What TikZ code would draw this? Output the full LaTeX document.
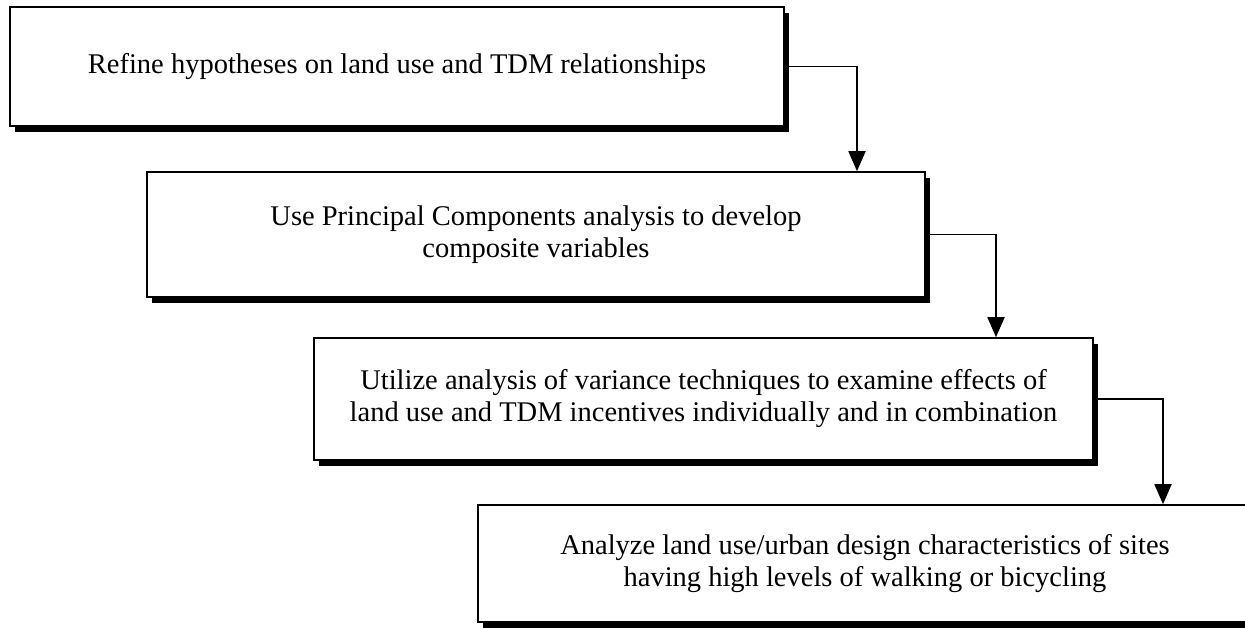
\documentclass[tikz,border=0pt]{standalone}
\usepackage{fontspec}
\setmainfont{Liberation Serif}
\usetikzlibrary{shadows,arrows.meta}
\begin{document}
\begin{tikzpicture}[x=1pt,y=-1pt,
  stepbox/.style={draw=black, line width=1.6pt, fill=white, align=center,
    inner sep=0pt, font=\fontsize{28.5}{32}\selectfont,
    drop shadow={shadow xshift=5pt, shadow yshift=-6pt, fill=black, opacity=1}},
  link/.style={line width=1.8pt, -{Triangle[length=20pt,width=17pt]}}]
\useasboundingbox (0,0) rectangle (1245,628);
\clip (0,0) rectangle (1245,628);
\fill[white] (0,0) rectangle (1245,628);

% process steps, stepping down to the right
\node[stepbox, minimum width=774pt, minimum height=119pt] (b1) at (397,66.5)
  {Refine hypotheses on land use and TDM relationships};
\node[stepbox, minimum width=778pt, minimum height=125pt] (b2) at (536,234.5)
  {Use Principal Components analysis to develop\\composite variables};
\node[stepbox, minimum width=779pt, minimum height=122pt] (b3) at (703.5,399)
  {Utilize analysis of variance techniques to examine effects of\\land use and TDM incentives individually and in combination};
\node[stepbox, minimum width=774pt, minimum height=117pt] (b4) at (865,563.5)
  {Analyze land use/urban design characteristics of sites\\having high levels of walking or bicycling};

% elbow connectors
\coordinate (k1) at (857,66.5);
\coordinate (k2) at (996,234.5);
\coordinate (k3) at (1163,399);
\draw[link] (b1.east) -- (k1) -- (k1 |- b2.north);
\draw[link] (b2.east) -- (k2) -- (k2 |- b3.north);
\draw[link] (b3.east) -- (k3) -- (k3 |- b4.north);
\end{tikzpicture}
\end{document}
